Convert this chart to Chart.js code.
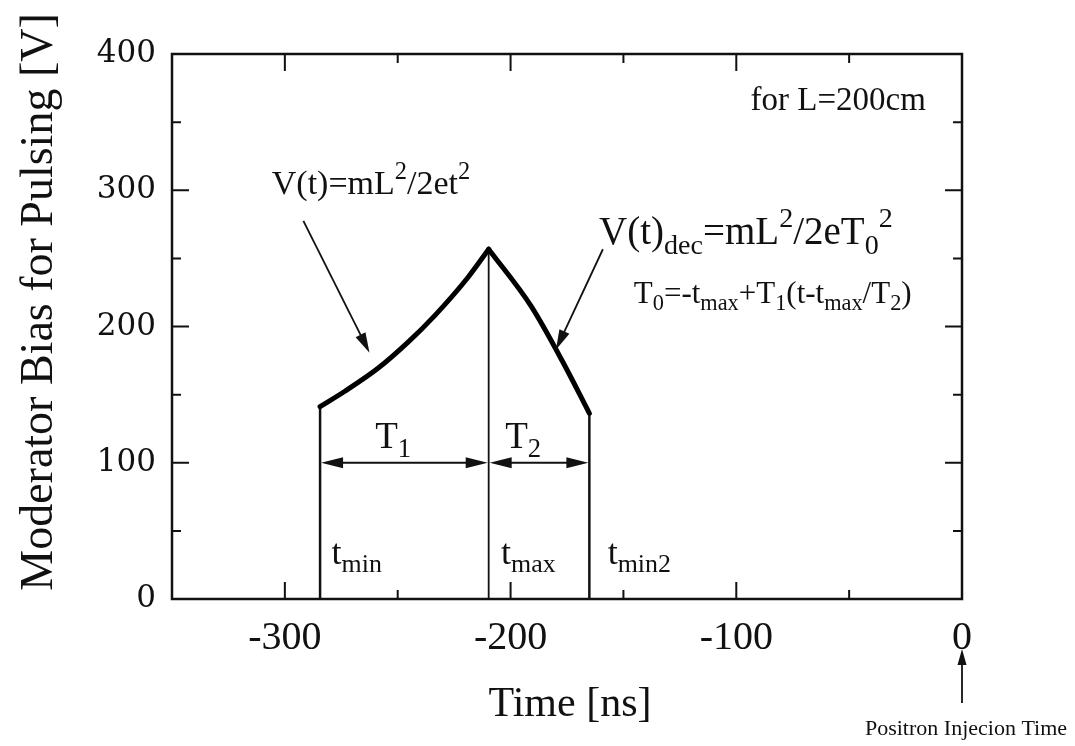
<!DOCTYPE html>
<html><head><meta charset="utf-8">
<script src="https://cdn.jsdelivr.net/npm/chart.js@4.4.0/dist/chart.umd.min.js"></script>
<style>html,body{margin:0;padding:0;background:#fff}#wrap{width:1075px;height:746px}</style>
</head><body><div id="wrap"><canvas id="c" width="1075" height="746"></canvas></div>
<script>
// ---- data ----
const riseTime = [-284.4, -273.4, -258.6, -245.4, -233.6, -218.9, -209.7];
const riseBias = [141.2, 152.5, 169.5, 188.5, 208.0, 236.0, 256.7];
const fallTime = [-209.7, -190.9, -176.2, -165.1];
const fallBias = [256.7, 214.9, 171.9, 136.3];
const markerTime = [-284.4, -209.7, -165.1];
const markerBias = [141.2, 256.7, 136.3];
const markerNames = ['min', 'max', 'min2'];
const xTickValues = [-300, -200, -100, 0];
const xTickLabels = ['-300', '-200', '-100', '0'];
const yTickValues = [0, 100, 200, 300, 400];
const yTickLabels = ['0', '100', '200', '300', '400'];
const xTitle = 'Time [ns]';
const yTitle = 'Moderator Bias for Pulsing [V]';
const injectionLabel = 'Positron Injecion Time';

const SERIF = '"Liberation Serif", "Times New Roman", serif';

const risePts = riseTime.map((t, i) => ({x: t, y: riseBias[i]}));
const fallPts = fallTime.map((t, i) => ({x: t, y: fallBias[i]}));

const markerSets = markerTime.map((t, i) => ({
  label: 't_' + markerNames[i],
  data: [{x: t, y: 0}, {x: t, y: markerBias[i]}],
  borderColor: '#111', borderWidth: i === 1 ? 1.8 : 2.5,
  pointRadius: 0, showLine: true, order: 2
}));

// annotation texts (anchor in data units)
const notes = [
  {parts: [['V(t)=mL'], ['2', 'sup'], ['/2et'], ['2', 'sup']], t: -305.8, v: 297.2, size: 34},
  {parts: [['for L=200cm']], t: -93.7, v: 358.6, size: 33},
  {parts: [['V(t)'], ['dec', 'sub'], ['=mL'], ['2', 'sup'], ['/2eT'], ['0', 'sub'], ['2', 'sup']], t: -160.8, v: 260.4, size: 39},
  {parts: [['T'], ['0', 'sub'], ['=-t'], ['max', 'sub'], ['+T'], ['1', 'sub'], ['(t-t'], ['max', 'sub'], ['/T'], ['2', 'sub'], [')']], t: -145.4, v: 217.6, size: 31},
  {parts: [['T'], ['1', 'sub']], t: -252, v: 110.8, size: 37, align: 'center'},
  {parts: [['T'], ['2', 'sub']], t: -194.4, v: 110.8, size: 37, align: 'center'},
  {parts: [['t'], ['min', 'sub']], t: -279.3, v: 26, size: 36},
  {parts: [['t'], ['max', 'sub']], t: -204.2, v: 26, size: 36},
  {parts: [['t'], ['min2', 'sub']], t: -157, v: 26, size: 36}
];
const pointerArrows = [
  {from: [-291.8, 277.5], to: [-262.5, 180.8]},
  {from: [-159.1, 256.7], to: [-179.9, 183]}
];

function richText(ctx, x, y, parts, size, align) {
  let w = 0;
  const segs = parts.map(p => {
    const k = p[1] || 'n';
    const s = k === 'n' ? size : size * 0.72;
    ctx.font = s + 'px ' + SERIF;
    const m = ctx.measureText(p[0]).width;
    w += m;
    return {txt: p[0], k, s, m};
  });
  let cx = align === 'center' ? x - w / 2 : (align === 'right' ? x - w : x);
  ctx.textAlign = 'left';
  ctx.textBaseline = 'alphabetic';
  segs.forEach(sg => {
    ctx.font = sg.s + 'px ' + SERIF;
    const dy = sg.k === 'sup' ? -0.45 * size : (sg.k === 'sub' ? 0.24 * size : 0);
    ctx.fillText(sg.txt, cx, y + dy);
    cx += sg.m;
  });
}

function arrowHead(ctx, x1, y1, x2, y2, len, wid) {
  const a = Math.atan2(y2 - y1, x2 - x1);
  ctx.beginPath();
  ctx.moveTo(x2, y2);
  ctx.lineTo(x2 - len * Math.cos(a) + wid / 2 * Math.sin(a), y2 - len * Math.sin(a) - wid / 2 * Math.cos(a));
  ctx.lineTo(x2 - len * Math.cos(a) - wid / 2 * Math.sin(a), y2 - len * Math.sin(a) + wid / 2 * Math.cos(a));
  ctx.closePath();
  ctx.fill();
}
function arrow(ctx, x1, y1, x2, y2, lw, len, wid) {
  const a = Math.atan2(y2 - y1, x2 - x1);
  ctx.lineWidth = lw;
  ctx.beginPath();
  ctx.moveTo(x1, y1);
  ctx.lineTo(x2 - len * 0.8 * Math.cos(a), y2 - len * 0.8 * Math.sin(a));
  ctx.stroke();
  arrowHead(ctx, x1, y1, x2, y2, len, wid);
}

const decor = {
  id: 'decor',
  afterDraw(chart) {
    const {ctx, chartArea: ca, scales: {x, y}} = chart;
    ctx.save();
    ctx.strokeStyle = '#111';
    ctx.fillStyle = '#111';
    // frame
    ctx.lineWidth = 2.5;
    ctx.strokeRect(ca.left, ca.top, ca.right - ca.left, ca.bottom - ca.top);
    // inward ticks
    ctx.lineWidth = 2;
    for (let v = -300; v < 0; v += 50) {
      const px = x.getPixelForValue(v);
      const L = v % 100 === 0 ? 17 : 9;
      ctx.beginPath();
      ctx.moveTo(px, ca.bottom); ctx.lineTo(px, ca.bottom - L);
      ctx.moveTo(px, ca.top); ctx.lineTo(px, ca.top + L);
      ctx.stroke();
    }
    for (let v = 50; v < 400; v += 50) {
      const py = y.getPixelForValue(v);
      const L = v % 100 === 0 ? 17 : 9;
      ctx.beginPath();
      ctx.moveTo(ca.left, py); ctx.lineTo(ca.left + L, py);
      ctx.moveTo(ca.right, py); ctx.lineTo(ca.right - L, py);
      ctx.stroke();
    }
    // axis titles
    ctx.font = '46px ' + SERIF;
    ctx.textAlign = 'center';
    ctx.textBaseline = 'middle';
    ctx.save();
    ctx.translate(40, 302);
    ctx.rotate(-Math.PI / 2);
    ctx.fillText(yTitle, 0, 0);
    ctx.restore();
    ctx.font = '42px ' + SERIF;
    ctx.textBaseline = 'alphabetic';
    ctx.fillText(xTitle, 570, 716);
    // annotations
    notes.forEach(n => richText(ctx, x.getPixelForValue(n.t), y.getPixelForValue(n.v), n.parts, n.size, n.align));
    // pointer arrows
    pointerArrows.forEach(a => arrow(ctx,
      x.getPixelForValue(a.from[0]), y.getPixelForValue(a.from[1]),
      x.getPixelForValue(a.to[0]), y.getPixelForValue(a.to[1]), 1.8, 20, 11));
    // double arrows for T1 / T2
    const yy = y.getPixelForValue(100);
    for (let i = 0; i < markerTime.length - 1; i++) {
      const a = x.getPixelForValue(markerTime[i]) + 1;
      const b = x.getPixelForValue(markerTime[i + 1]) - 1;
      ctx.lineWidth = 2;
      ctx.beginPath(); ctx.moveTo(a + 10, yy); ctx.lineTo(b - 10, yy); ctx.stroke();
      arrowHead(ctx, b, yy, a, yy, 22, 11);
      arrowHead(ctx, a, yy, b, yy, 22, 11);
    }
    // positron injection arrow
    const x0 = x.getPixelForValue(0);
    arrow(ctx, x0, ca.bottom + 104, x0, ca.bottom + 50, 1.8, 16, 9);
    ctx.font = '22px ' + SERIF;
    ctx.textAlign = 'center';
    ctx.fillText(injectionLabel, x0 + 4, ca.bottom + 136);
    ctx.restore();
  }
};

new Chart(document.getElementById('c'), {
  type: 'scatter',
  data: {
    datasets: [
      {label: 'V(t) rise', data: risePts, borderColor: '#000', borderWidth: 5, pointRadius: 0,
       showLine: true, borderJoinStyle: 'round', borderCapStyle: 'round', cubicInterpolationMode: 'monotone', order: 1},
      {label: 'V(t) dec', data: fallPts, borderColor: '#000', borderWidth: 5, pointRadius: 0,
       showLine: true, borderJoinStyle: 'round', borderCapStyle: 'round', cubicInterpolationMode: 'monotone', order: 1}
    ].concat(markerSets)
  },
  options: {
    responsive: false,
    animation: false,
    events: [],
    layout: {padding: {left: 0, right: 113, top: 54, bottom: 0}},
    plugins: {legend: {display: false}, tooltip: {enabled: false}},
    scales: {
      x: {
        type: 'linear', min: -350, max: 0,
        afterBuildTicks: s => { s.ticks = xTickValues.map(v => ({value: v})); },
        afterFit: s => { s.height = 147; },
        grid: {display: false, drawTicks: false},
        border: {display: false},
        ticks: {
          padding: 15, color: '#111', maxRotation: 0, autoSkip: false,
          font: {family: SERIF, size: 40},
          callback: (v) => xTickLabels[xTickValues.indexOf(v)]
        }
      },
      y: {
        type: 'linear', min: 0, max: 400,
        afterBuildTicks: s => { s.ticks = yTickValues.map(v => ({value: v})); },
        afterFit: s => { s.width = 172; },
        grid: {display: false, drawTicks: false},
        border: {display: false},
        ticks: {
          padding: 16, color: '#111',
          font: {family: '"DejaVu Serif", serif', size: 31},
          callback: (v) => yTickLabels[yTickValues.indexOf(v)]
        }
      }
    }
  },
  plugins: [decor]
});
</script>
</body></html>
